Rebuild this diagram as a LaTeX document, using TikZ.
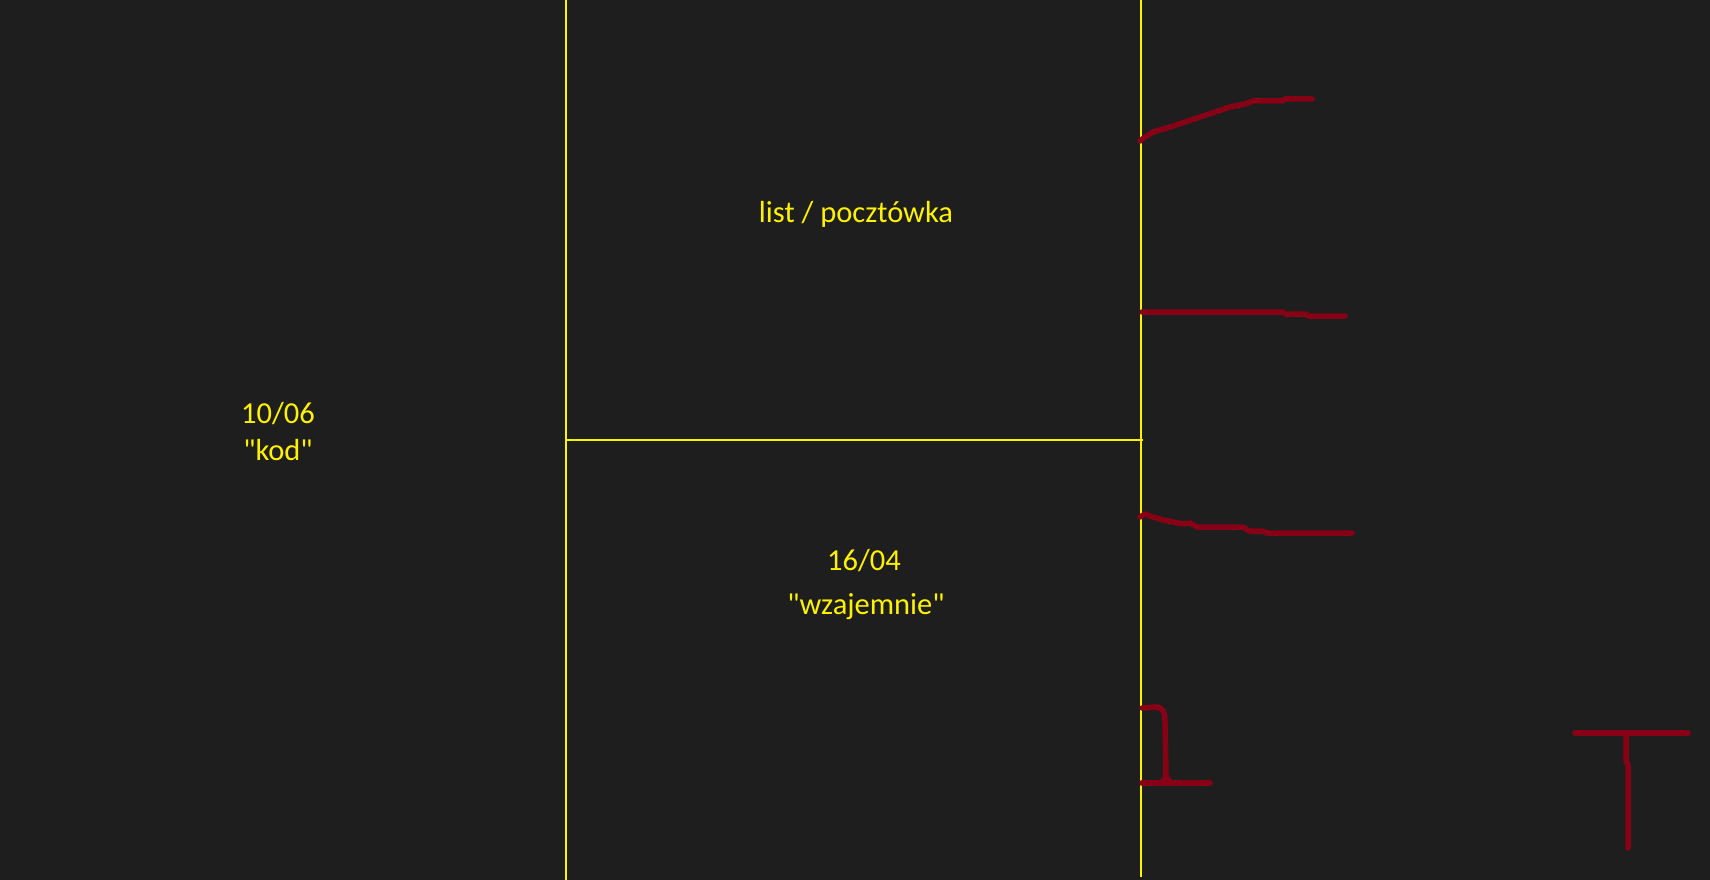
\documentclass[tikz,border=0pt]{standalone}
\usepackage{fontspec}
\setmainfont{Carlito}[Ligatures=TeXOff]
\definecolor{bg}{HTML}{1E1E1E}
\definecolor{ylw}{HTML}{FFF200}
\definecolor{dred}{HTML}{880015}
\begin{document}
\begin{tikzpicture}[x=1pt,y=-1pt,
  label/.style={text=ylw,font=\fontsize{30.5}{36}\selectfont,inner sep=0pt,anchor=center},
  divider/.style={draw=ylw,line width=1.3pt},
  scribble/.style={draw=dred,line width=5.5pt,line cap=round,line join=round}]
\fill[bg] (0,0) rectangle (1710,880);
\useasboundingbox (0,0) rectangle (1710,880);
% dividers
\coordinate (lt) at (566,0);
\coordinate (lb) at (566,880);
\coordinate (mh1) at (566,440);
\coordinate (mh2) at (1143,440);
\coordinate (rt) at (1141,0);
\coordinate (rb) at (1141,877);
\draw[divider] (lt) -- (lb);
\draw[divider] (mh1) -- (mh2);
\draw[divider] (rt) -- (rb);
% texts
\node[label] (t1) at (278,414) {10/06};
\node[label] (t2) at (278,450) {"kod"};
\node[label] (t3) at (856,214) {list / pocztówka};
\node[label] (t4) at (864,561) {16/04};
\node[label] (t5) at (866,607) {"wzajemnie"};
% red scribbles
\draw[scribble] (1140,141) -- (1145,137) -- (1153,132) -- (1170,127) -- (1185,122) -- (1200,117) -- (1215,112) -- (1230,107) -- (1245,104) -- (1253,101) -- (1282,101) -- (1285,99) -- (1312,99);
\draw[scribble] (1142,312) -- (1283,312) -- (1285,314) -- (1306,314) -- (1308,316) -- (1345,316);
\draw[scribble] (1140,517) -- (1145,514) -- (1153,517) -- (1163,520) -- (1173,522) -- (1183,524) -- (1190,523) -- (1197,527) -- (1243,527) -- (1249,531) -- (1263,531) -- (1267,533) -- (1352,533);
\draw[scribble] (1142,708) -- (1155,707) .. controls (1163,707) and (1165,712) .. (1165,722) -- (1166,774) .. controls (1166,779) and (1163,782) .. (1158,783);
\draw[scribble] (1142,783) -- (1210,783);
\draw[scribble] (1166,774) .. controls (1166,779) and (1169,782) .. (1174,783);
\draw[scribble] (1575,733) -- (1688,733);
\draw[scribble] (1626,733) -- (1626,762) -- (1628,764) -- (1628,848);
\end{tikzpicture}
\end{document}
